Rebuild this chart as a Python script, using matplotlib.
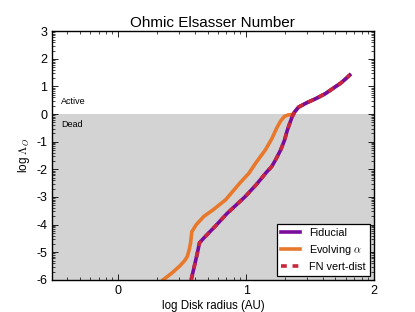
#!/usr/bin/env python3
import numpy as np
import matplotlib
matplotlib.use("Agg")
import matplotlib.pyplot as plt
from matplotlib.ticker import FixedLocator

plt.rcParams["mathtext.fontset"] = "cm"
plt.rcParams["axes.unicode_minus"] = False

# log radius (AU) vs log Ohmic Elsasser number
fid_x = [0.57, 0.59, 0.615, 0.635, 0.67, 0.75, 0.85, 0.95, 0.99, 1.08, 1.16,
         1.20, 1.23, 1.27, 1.30, 1.32, 1.34, 1.36, 1.38, 1.41, 1.47, 1.55,
         1.62, 1.68, 1.74, 1.78, 1.81]
fid_y = [-6.0, -5.6, -5.1, -4.66, -4.48, -4.1, -3.6, -3.17, -3.0, -2.55, -2.1,
         -1.9, -1.66, -1.3, -0.95, -0.62, -0.35, -0.1, 0.08, 0.25, 0.4, 0.57,
         0.74, 0.93, 1.12, 1.28, 1.41]

evo_x = [0.35, 0.42, 0.48, 0.52, 0.54, 0.555, 0.565, 0.575, 0.61, 0.67, 0.74,
         0.84, 0.95, 1.02, 1.08, 1.15, 1.20, 1.24, 1.27, 1.30, 1.33, 1.36,
         1.38, 1.41, 1.47, 1.55, 1.62, 1.68, 1.74, 1.78, 1.81]
evo_y = [-6.0, -5.75, -5.5, -5.3, -5.15, -4.9, -4.67, -4.26, -4.0, -3.7, -3.47,
         -3.1, -2.5, -2.15, -1.74, -1.3, -0.9, -0.5, -0.25, -0.08, -0.03, -0.02,
         0.08, 0.25, 0.4, 0.57, 0.74, 0.93, 1.12, 1.28, 1.41]

x_ticks = [0, 1, 2]
y_ticks = [3, 2, 1, 0, -1, -2, -3, -4, -5, -6]


def log_minor(lo, hi):
    return [n + np.log10(k) for n in range(lo, hi) for k in range(2, 10)]


fig = plt.figure(figsize=(4.15, 3.12), dpi=100)
ax = fig.add_axes([0.125, 0.103, 0.776, 0.797])

sans = ["Liberation Sans", "DejaVu Sans"]

ax.axhspan(-6, 0, color="#d3d3d3", zorder=0, lw=0)
ax.plot(fid_x, fid_y, color="#7a0c9c", lw=2.6, label="Fiducial", zorder=3)
ax.plot(evo_x, evo_y, color="#e8782c", lw=2.6, label=r"Evolving $\alpha$", zorder=2)
ax.plot(fid_x, fid_y, color="#c8283c", lw=2.6, ls=(0, (1.6, 1.6)),
        label="FN vert-dist", zorder=4)

ax.text(-0.45, 0.38, "Active", fontsize=6.5, family=sans)
ax.text(-0.45, -0.48, "Dead", fontsize=6.5, family=sans)

ax.set_xlim(-0.52, 2)
ax.set_ylim(-6, 3)
ax.set_xticks(x_ticks)
ax.set_yticks(y_ticks)
ax.xaxis.set_minor_locator(FixedLocator(log_minor(-1, 2)))
ax.yaxis.set_minor_locator(FixedLocator(log_minor(-6, 3)))
ax.tick_params(which="both", direction="in", top=True, right=True, labelsize=9)
ax.tick_params(which="major", length=4, width=0.6)
ax.tick_params(which="minor", length=2, width=0.5)
for lab in ax.get_xticklabels() + ax.get_yticklabels():
    lab.set_family(sans)
for sp in ax.spines.values():
    sp.set_linewidth(1.0)

ax.set_title("Ohmic Elsasser Number", fontsize=11, family=sans, pad=3)
ax.set_xlabel("log Disk radius (AU)", fontsize=8.3, family=sans, labelpad=2)
ax.set_ylabel(r"log $\Lambda_O$", fontsize=8.5, family=sans, labelpad=3)

leg = ax.legend(loc="lower right", prop={"family": sans, "size": 7.8},
                fancybox=False, framealpha=1, edgecolor="black",
                handlelength=1.8, borderaxespad=0.35, labelspacing=0.45)
leg.get_frame().set_linewidth(0.9)

fig.savefig("out.png", dpi=100)
